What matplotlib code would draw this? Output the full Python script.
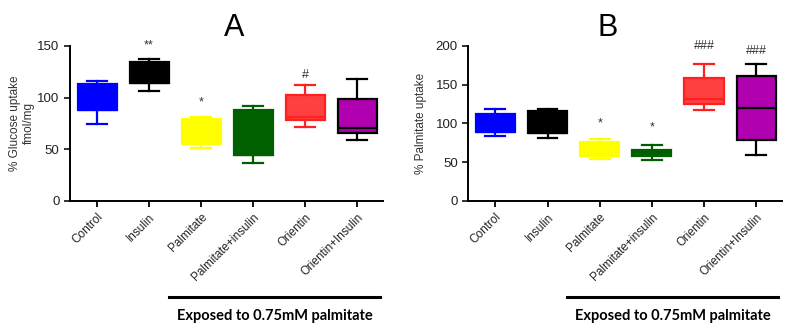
import matplotlib
matplotlib.use("Agg")
import matplotlib.pyplot as plt
from matplotlib.lines import Line2D

plt.rcParams['font.family'] = ['Liberation Sans', 'DejaVu Sans']

groups = ['Control', 'Insulin', 'Palmitate', 'Palmitate+insulin', 'Orientin', 'Orientin+Insulin']
face_colors = ['#0000ff', '#000000', '#ffff00', '#006000', '#ff4040', '#b000b0']
edge_colors = ['#0000ff', '#000000', '#ffff00', '#006000', '#ff2020', '#000000']

# panel A: glucose uptake (whisker low, q1, median, q3, whisker high)
glc_lo = [74, 106, 51, 37, 71, 59]
glc_q1 = [88, 114, 55, 44, 78, 66]
glc_med = [88, 114, 55, 44, 81, 70]
glc_q3 = [113, 134, 79, 88, 102, 99]
glc_hi = [116, 137, 81, 92, 112, 118]
glc_marks = ['', '**', '*', '', '#', '']
glc_mark_y = [0, 145, 89, 0, 116, 0]

# panel B: palmitate uptake
pal_lo = [84, 81, 54, 52, 117, 59]
pal_q1 = [89, 88, 58, 58, 125, 79]
pal_med = [89, 88, 58, 61, 131, 120]
pal_q3 = [112, 116, 76, 66, 158, 161]
pal_hi = [118, 118, 80, 72, 176, 176]
pal_marks = ['', '', '*', '*', '###', '###']
pal_mark_y = [0, 0, 92, 87, 192, 186]


def draw_panel(ax, lo, q1, med, q3, hi, marks, mark_y, ymax, yticks, ylabel, title, title_x, lpad):
    for i in range(len(groups)):
        st = dict(whislo=lo[i], q1=q1[i], med=med[i], q3=q3[i], whishi=hi[i], fliers=[])
        ax.bxp([st], positions=[i], widths=0.75, patch_artist=True, showfliers=False,
               boxprops=dict(facecolor=face_colors[i], edgecolor=edge_colors[i], linewidth=1.6),
               medianprops=dict(color=edge_colors[i], linewidth=1.6),
               whiskerprops=dict(color=edge_colors[i], linewidth=1.6),
               capprops=dict(color=edge_colors[i], linewidth=1.6),
               capwidths=0.38)
    for i, m in enumerate(marks):
        if m:
            ax.text(i, mark_y[i], m, ha='center', va='bottom', fontsize=9, color='#333333')
    ax.set_xlim(-0.52, 5.5)
    ax.set_ylim(0, ymax)
    ax.set_yticks(yticks)
    ax.set_xticks(range(len(groups)))
    ax.set_xticklabels(groups, rotation=45, ha='right', rotation_mode='anchor', fontsize=8.5, color='#222222')
    ax.tick_params(axis='y', labelsize=9.5, length=4, width=1.3, colors='#222222')
    ax.tick_params(axis='x', length=4, width=1.3)
    for s in ['top', 'right']:
        ax.spines[s].set_visible(False)
    for s in ['left', 'bottom']:
        ax.spines[s].set_linewidth(1.4)
    ax.set_ylabel(ylabel, fontsize=8.5, color='#333333', labelpad=lpad)
    ax.set_title(title, fontsize=22, x=title_x, pad=7)


fig = plt.figure(figsize=(7.95, 3.28), dpi=100)
ax_a = fig.add_axes([0.088, 0.388, 0.394, 0.472])
ax_b = fig.add_axes([0.589, 0.388, 0.395, 0.472])

draw_panel(ax_a, glc_lo, glc_q1, glc_med, glc_q3, glc_hi, glc_marks, glc_mark_y,
           150, [0, 50, 100, 150], '% Glucose uptake\nfmol/mg', 'A', 0.524, 2)
draw_panel(ax_b, pal_lo, pal_q1, pal_med, pal_q3, pal_hi, pal_marks, pal_mark_y,
           200, [0, 50, 100, 150, 200], '% Palmitate uptake', 'B', 0.443, 6)

# bracket lines for treated groups
for x0, x1 in [(169, 380), (567, 778)]:
    fig.add_artist(Line2D([x0 / 795, x1 / 795], [1 - 297 / 328, 1 - 297 / 328],
                          color='black', linewidth=2.2))
    fig.text((x0 + x1) / 2 / 795, 1 - 316 / 328, 'Exposed to 0.75mM palmitate',
             ha='center', va='center', fontsize=10.5, fontweight='bold', family='Lato')

fig.savefig('out.png', dpi=100)
